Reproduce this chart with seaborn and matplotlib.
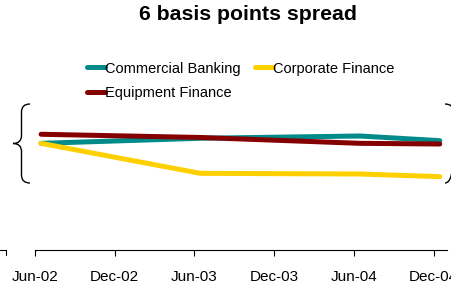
import matplotlib
matplotlib.use("Agg")
import matplotlib.pyplot as plt
import matplotlib.dates as mdates
from matplotlib.path import Path
from matplotlib.patches import PathPatch
from matplotlib.lines import Line2D
import numpy as np
import pandas as pd
import seaborn as sns

# data (spread in basis points)
dates = pd.to_datetime(["2002-06-15", "2003-06-15", "2004-06-15", "2004-12-15"])
commercial = [8.00, 8.38, 8.55, 8.20]
corporate = [8.00, 5.75, 5.70, 5.50]
equipment = [8.68, 8.44, 8.00, 7.95]
series_names = ["Commercial Banking", "Corporate Finance", "Equipment Finance"]
colors = ["#008B8B", "#FFD000", "#850000"]
tick_dates = pd.to_datetime(["2002-06-01", "2002-12-01", "2003-06-01",
                             "2003-12-01", "2004-06-01", "2004-12-01"])
tick_labels = ["Jun-02", "Dec-02", "Jun-03", "Dec-03", "Jun-04", "Dec-04"]

df = pd.concat([
    pd.DataFrame({"date": dates, "bps": commercial, "unit": series_names[0]}),
    pd.DataFrame({"date": dates, "bps": corporate, "unit": series_names[1]}),
    pd.DataFrame({"date": dates, "bps": equipment, "unit": series_names[2]}),
])

sns.set_theme(style="white")
plt.rcParams["font.family"] = ["Liberation Sans", "DejaVu Sans"]
plt.rcParams["text.color"] = "black"

W, H = 452, 291
fig = plt.figure(figsize=(W / 100, H / 100), dpi=100)
ax = fig.add_axes([0, 41 / H, 1, 190 / H])

sns.lineplot(data=df, x="date", y="bps", hue="unit", palette=colors,
             linewidth=3.6, ax=ax, legend=False, solid_capstyle="round")

start = mdates.date2num(pd.Timestamp("2002-06-01"))
ax.set_xlim(start - 80.2, start + 956)
ax.set_ylim(0, 14.25)

for s in ["top", "right", "left"]:
    ax.spines[s].set_visible(False)
ax.spines["bottom"].set_color("black")
ax.spines["bottom"].set_linewidth(0.8)
ax.spines["bottom"].set_bounds(start, mdates.date2num(pd.Timestamp("2004-12-31")))
ax.set_xticks(mdates.date2num(tick_dates))
ax.set_xticklabels(tick_labels)
ax.set_yticks([])
ax.tick_params(axis="x", bottom=True, length=4.3, width=0.8, color="black",
               pad=10, labelsize=11, labelcolor="black")
ax.set_xlabel("")
ax.set_ylabel("")

# stray axis piece at the far left
fig.add_artist(Line2D([0, 6 / W, 6 / W], [1 - 250 / H, 1 - 250 / H, 1 - 255 / H],
                      transform=fig.transFigure, color="black", lw=0.8))

# curly braces (figure pixel coordinates, y from top)
def brace(x_tip, x_end, y_top, y_bot):
    ym = (y_top + y_bot) / 2
    xm = (x_tip + x_end) / 2
    pts = [(x_end, y_top), (xm, y_top), (xm, y_top + 8),
           (xm, ym - 8),
           (xm, ym), (x_tip, ym),
           (xm, ym), (xm, ym + 8),
           (xm, y_bot - 8),
           (xm, y_bot), (x_end, y_bot)]
    codes = [Path.MOVETO, Path.CURVE3, Path.CURVE3,
             Path.LINETO,
             Path.CURVE3, Path.CURVE3,
             Path.CURVE3, Path.CURVE3,
             Path.LINETO,
             Path.CURVE3, Path.CURVE3]
    verts = [(x / W, 1 - y / H) for x, y in pts]
    fig.add_artist(PathPatch(Path(verts, codes), transform=fig.transFigure,
                             fill=False, lw=1.0, edgecolor="black"))

brace(13, 30, 104, 183)
brace(462, 445, 104, 183)

fig.text(248 / W, 1 - 14 / H, "6 basis points spread", ha="center", va="center",
         fontsize=15.3, fontweight="bold", color="black")

handles = [Line2D([], [], color=c, lw=3.6) for c in colors]
order = [0, 2, 1]
leg = fig.legend([handles[i] for i in order], [series_names[i] for i in order],
                 loc="upper left", bbox_to_anchor=(87 / W, 1 - 61.5 / H), ncol=2,
                 frameon=False, fontsize=10.5, handlelength=1.24, handletextpad=0.0,
                 columnspacing=1.0, labelspacing=0.72, borderpad=0, borderaxespad=0)
for t in leg.get_texts():
    t.set_color("black")

fig.savefig("out.png", dpi=100)
